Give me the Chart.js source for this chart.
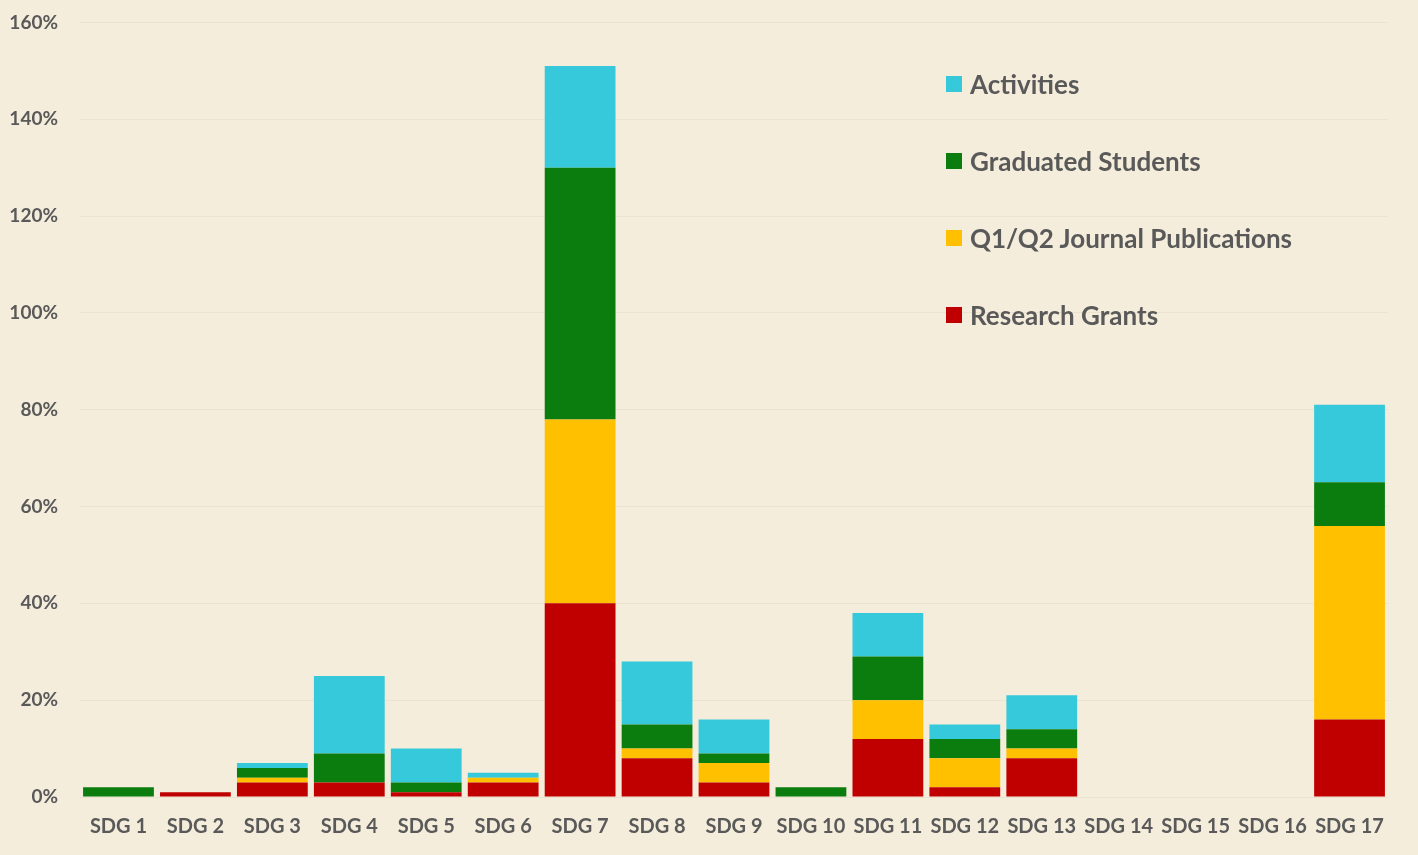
<!DOCTYPE html>
<html>
<head>
<meta charset="utf-8">
<script src="https://cdn.jsdelivr.net/npm/chart.js@4.4.1/dist/chart.umd.min.js"></script>
<style>
  html, body { margin: 0; padding: 0; background: #F5EDDC; overflow: hidden; }
  #wrap { position: relative; width: 1418px; height: 855px; overflow: hidden; }
  #chart { position: absolute; left: 0; top: -11px; }
  #legend { position: absolute; left: 946px; top: 66px; font-family: Lato, "Open Sans", sans-serif; font-weight: bold; font-size: 26px; color: #595959; }
  #legend .item { display: flex; align-items: center; height: 36px; margin-bottom: 41px; }
  #legend .box { width: 16px; height: 16px; margin-right: 8px; }
</style>
</head>
<body>
<div id="wrap">
  <canvas id="chart" width="1418" height="866"></canvas>
  <div id="legend"></div>
</div>
<script>
const categories = ['SDG 1', 'SDG 2', 'SDG 3', 'SDG 4', 'SDG 5', 'SDG 6', 'SDG 7', 'SDG 8', 'SDG 9',
  'SDG 10', 'SDG 11', 'SDG 12', 'SDG 13', 'SDG 14', 'SDG 15', 'SDG 16', 'SDG 17'];

const researchGrants = [0, 1, 3, 3, 1, 3, 40, 8, 3, 0, 12, 2, 8, 0, 0, 0, 16];
const journalPublications = [0, 0, 1, 0, 0, 1, 38, 2, 4, 0, 8, 6, 2, 0, 0, 0, 40];
const graduatedStudents = [2, 0, 2, 6, 2, 0, 52, 5, 2, 2, 9, 4, 4, 0, 0, 0, 9];
const activities = [0, 0, 1, 16, 7, 1, 21, 13, 7, 0, 9, 3, 7, 0, 0, 0, 16];

const yTicks = [0, 20, 40, 60, 80, 100, 120, 140, 160];

const textColor = '#595959';
const fontFamily = 'Lato, "Open Sans", sans-serif';

const datasets = [
  { label: 'Research Grants', data: researchGrants, backgroundColor: '#C00000' },
  { label: 'Q1/Q2 Journal Publications', data: journalPublications, backgroundColor: '#FFC000' },
  { label: 'Graduated Students', data: graduatedStudents, backgroundColor: '#0B7D0F' },
  { label: 'Activities', data: activities, backgroundColor: '#35C9DB' }
];
datasets.forEach(ds => {
  ds.barPercentage = 0.92;
  ds.categoryPercentage = 1;
  ds.borderWidth = 0;
});

const chart = new Chart(document.getElementById('chart'), {
  type: 'bar',
  data: { labels: categories, datasets: datasets },
  options: {
    responsive: false,
    animation: false,
    layout: { padding: { top: 12, right: 30, bottom: 0, left: 0 } },
    plugins: {
      legend: { display: false },
      tooltip: { enabled: false }
    },
    scales: {
      x: {
        stacked: true,
        grid: { display: false },
        border: { display: false },
        ticks: {
          color: textColor,
          font: { family: fontFamily, size: 20, weight: 'bold' },
          padding: 10,
          maxRotation: 0
        },
        afterFit: s => { s.height = 58; }
      },
      y: {
        stacked: true,
        min: 0,
        max: 160,
        afterBuildTicks: s => { s.ticks = yTicks.map(v => ({ value: v })); },
        grid: { color: 'rgba(120, 90, 40, 0.07)', drawTicks: false },
        border: { display: false },
        ticks: {
          color: textColor,
          font: { family: fontFamily, size: 19, weight: 'bold' },
          padding: 22,
          callback: v => v + '%'
        },
        afterFit: s => { s.width = 80; }
      }
    }
  }
});

// legend, top series first
const legendEl = document.getElementById('legend');
chart.data.datasets.slice().reverse().forEach(ds => {
  const item = document.createElement('div');
  item.className = 'item';
  const box = document.createElement('span');
  box.className = 'box';
  box.style.background = ds.backgroundColor;
  const txt = document.createElement('span');
  txt.textContent = ds.label;
  item.appendChild(box);
  item.appendChild(txt);
  legendEl.appendChild(item);
});
</script>
</body>
</html>
